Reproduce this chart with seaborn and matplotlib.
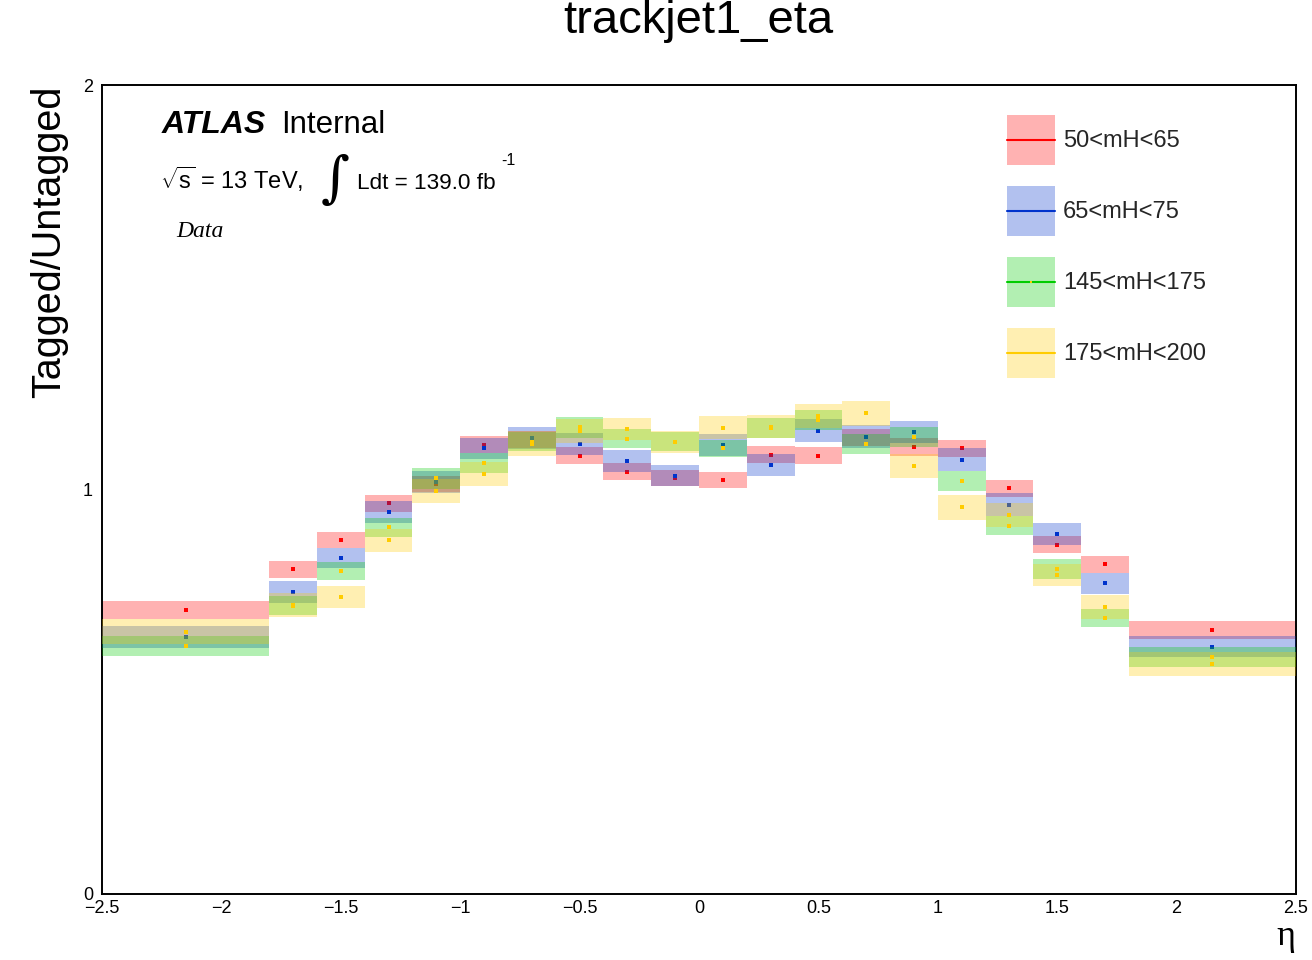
import matplotlib
matplotlib.use("Agg")
import matplotlib.pyplot as plt
from matplotlib.patches import Patch
from matplotlib.lines import Line2D
from matplotlib.legend_handler import HandlerLine2D, HandlerTuple
import numpy as np
import pandas as pd
import seaborn as sns

# Binning in track-jet pseudorapidity
eta_edges = [-2.5, -1.8, -1.6, -1.4, -1.2, -1.0, -0.8, -0.6, -0.4, -0.2, 0.0,
             0.2, 0.4, 0.6, 0.8, 1.0, 1.2, 1.4, 1.6, 1.8, 2.5]

# Tagged/untagged ratio per mass window, with statistical uncertainty
mass_windows = ["50<mH<65", "65<mH<75", "145<mH<175", "175<mH<200"]

ratio_50_65 = [0.702, 0.802, 0.875, 0.965, 1.013, 1.110, 1.124, 1.083, 1.043, 1.027,
               1.022, 1.085, 1.083, 1.129, 1.104, 1.101, 1.002, 0.863, 0.814, 0.651]
err_50_65 = [0.022, 0.021, 0.020, 0.021, 0.021, 0.021, 0.021, 0.021, 0.021, 0.020,
             0.020, 0.021, 0.021, 0.021, 0.022, 0.022, 0.022, 0.021, 0.022, 0.022]

ratio_65_75 = [0.634, 0.745, 0.829, 0.943, 1.017, 1.101, 1.126, 1.111, 1.069, 1.033,
               1.109, 1.059, 1.145, 1.130, 1.142, 1.073, 0.962, 0.889, 0.767, 0.611]
err_65_75 = [0.027, 0.027, 0.025, 0.027, 0.027, 0.027, 0.027, 0.027, 0.027, 0.026,
             0.027, 0.027, 0.028, 0.028, 0.028, 0.028, 0.028, 0.027, 0.027, 0.027]

ratio_145_175 = [0.613, 0.712, 0.797, 0.906, 1.027, 1.064, 1.118, 1.153, 1.125, 1.118,
                 1.101, 1.152, 1.171, 1.111, 1.129, 1.020, 0.910, 0.803, 0.681, 0.585]
err_145_175 = [0.025, 0.024, 0.022, 0.024, 0.026, 0.025, 0.024, 0.025, 0.024, 0.024,
               0.022, 0.024, 0.025, 0.025, 0.025, 0.025, 0.024, 0.024, 0.022, 0.024]

ratio_175_200 = [0.648, 0.713, 0.733, 0.874, 0.995, 1.037, 1.113, 1.144, 1.149, 1.116,
                 1.152, 1.155, 1.181, 1.188, 1.057, 0.955, 0.936, 0.788, 0.708, 0.567]
err_175_200 = [0.031, 0.030, 0.027, 0.028, 0.030, 0.030, 0.030, 0.030, 0.028, 0.027,
               0.028, 0.028, 0.030, 0.031, 0.030, 0.030, 0.030, 0.028, 0.030, 0.030]

x_ticks = [-2.5, -2.0, -1.5, -1.0, -0.5, 0.0, 0.5, 1.0, 1.5, 2.0, 2.5]
x_tick_labels = ["\u22122.5", "\u22122", "\u22121.5", "\u22121", "\u22120.5", "0",
                 "0.5", "1", "1.5", "2", "2.5"]
y_ticks = [0, 1, 2]
y_tick_labels = ["0", "1", "2"]

line_colors = ["#ff0000", "#0033cc", "#00cc00", "#ffcc00"]
marker_colors = ["#ff0000", "#0033cc", "#ffcc00", "#ffcc00"]

sns.set_theme(style="white")
plt.rcParams["font.family"] = ["Liberation Sans", "DejaVu Sans"]
plt.rcParams["mathtext.fontset"] = "custom"
plt.rcParams["mathtext.rm"] = "Liberation Sans"
plt.rcParams["mathtext.it"] = "Liberation Sans:italic"

W, H = 1312, 960
fig = plt.figure(figsize=(W / 100, H / 100), dpi=100)
fig.patch.set_facecolor("white")

x0, x1, y0, y1 = 102, 1296, 893.5, 85
ax = fig.add_axes([x0 / W, (H - y0) / H, (x1 - x0) / W, (y0 - y1) / H])
ax.set_facecolor("white")

edges = np.array(eta_edges)
lefts = edges[:-1]
widths = np.diff(edges)
centers = lefts + widths / 2

series = [
    (ratio_50_65, err_50_65),
    (ratio_65_75, err_65_75),
    (ratio_145_175, err_145_175),
    (ratio_175_200, err_175_200),
]

for i, (name, (vals, errs)) in enumerate(zip(mass_windows, series)):
    vals = np.array(vals)
    errs = np.array(errs)
    ax.bar(lefts, 2 * errs, width=widths, bottom=vals - errs, align="edge",
           color=line_colors[i], alpha=0.3, linewidth=0, zorder=2 + 2 * i)
    df = pd.DataFrame({"eta": centers, "ratio": vals, "sample": name})
    sns.scatterplot(data=df, x="eta", y="ratio", ax=ax, color=marker_colors[i],
                    marker="s", s=5, linewidth=0, zorder=3 + 2 * i, legend=False)

ax.set_xlim(-2.5, 2.5)
ax.set_ylim(0, 2)
ax.set_xlabel("")
ax.set_ylabel("")

ax.set_xticks(x_ticks, labels=x_tick_labels)
ax.set_xticks(np.arange(-2.5, 2.5001, 0.1), minor=True)
ax.set_yticks(y_ticks, labels=y_tick_labels)
ax.tick_params(axis="x", which="major", direction="in", length=16, width=1.3,
               labelsize=13, pad=4.5, top=False, color="black", labelcolor="black")
ax.tick_params(axis="x", which="minor", direction="in", length=8, width=1.3,
               top=False, color="black")
ax.tick_params(axis="y", which="major", direction="in", length=25, width=1.3,
               labelsize=13, pad=6.5, right=False, color="black", labelcolor="black")
ax.tick_params(axis="y", which="minor", left=False, right=False)
for sp in ax.spines.values():
    sp.set_color("black")
    sp.set_linewidth(1.4)
    sp.set_visible(True)
ax.grid(False)

# Title and axis titles
fig.text(698 / W, 1 - 33 / H, "trackjet1_eta", ha="center", va="baseline",
         fontsize=34, color="black")
fig.text(49 / W, 1 - 86 / H, "Tagged/Untagged", rotation=90, ha="center", va="top",
         fontsize=28.5, color="black")
fig.text(1295 / W, 1 - 945 / H, "\u03b7", ha="right", va="baseline", fontsize=26,
         family=["Liberation Serif", "DejaVu Serif"], color="black")

# Experiment labels
fig.text(162 / W, 1 - 133 / H, "ATLAS", fontsize=23, fontweight="bold",
         fontstyle="italic", va="baseline", color="black")
fig.text(281 / W, 1 - 133 / H, "Internal", fontsize=22.5, va="baseline", color="black")
fig.text(160 / W, 1 - 189 / H, r"$\sqrt{\mathrm{s}}$ = 13 TeV,", fontsize=17,
         va="baseline", color="black")
fig.text(321 / W, 1 - 196 / H, "\u222b", fontsize=40, va="baseline",
         family=["DejaVu Serif"], color="black")
fig.text(357 / W, 1 - 189 / H, "Ldt = 139.0 fb", fontsize=16.2,
         va="baseline", color="black")
fig.text(501 / W, 1 - 165 / H, "-1", fontsize=11.5, va="baseline", color="black")
fig.text(176 / W, 1 - 237 / H, "Data", fontsize=17, fontstyle="italic",
         family=["Liberation Serif", "DejaVu Serif"], va="baseline", color="black")


class CenteredLineHandler(HandlerLine2D):
    """Line handler that sits at the vertical middle of the legend box."""

    def create_artists(self, legend, orig_handle, xdescent, ydescent, width,
                       height, fontsize, trans):
        artists = super().create_artists(legend, orig_handle, xdescent, ydescent,
                                         width, height, fontsize, trans)
        for a in artists:
            n = len(a.get_xdata())
            a.set_ydata(np.full(n, height / 2 - ydescent))
        return artists


# Legend: translucent band with the central line of each sample
handles = []
for i in range(len(mass_windows)):
    patch = Patch(facecolor=line_colors[i], alpha=0.3, linewidth=0)
    line = Line2D([], [], color=line_colors[i], lw=1.5, marker="s", markersize=1.5,
                  markerfacecolor=marker_colors[i], markeredgewidth=0)
    handles.append((patch, line))
fs = 17
fs_px = fs * 100 / 72
box_h = 50
hh = (box_h / fs_px - 0.245) / 0.65
leg = fig.legend(handles, mass_windows, loc="upper left",
                 bbox_to_anchor=(1007 / W, 1 - 115 / H), frameon=False,
                 fontsize=fs, handlelength=48 / fs_px, handleheight=hh,
                 labelspacing=21 / fs_px, handletextpad=8 / fs_px, borderpad=0,
                 borderaxespad=0,
                 handler_map={tuple: HandlerTuple(ndivide=1),
                              Line2D: CenteredLineHandler()})

fig.savefig("out.png", dpi=100, facecolor="white")
